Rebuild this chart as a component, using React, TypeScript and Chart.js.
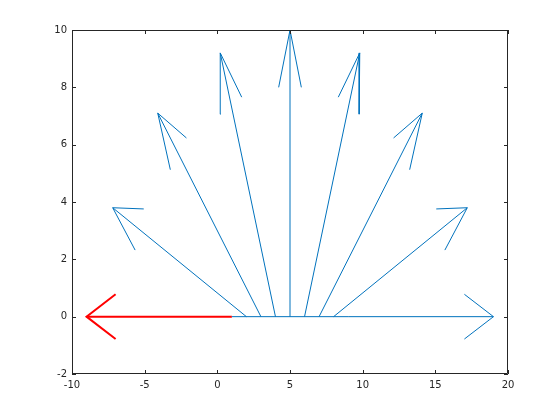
import React, { useEffect, useRef } from "react";
import { Chart, registerables } from "chart.js";

Chart.register(...registerables);

// Quiver data
const baseX = [9, 8, 7, 6, 5, 4, 3, 2];
const baseY = [0, 0, 0, 0, 0, 0, 0, 0];
const uComp = [10, 9.2, 7.1, 3.8, 0, -3.8, -7.1, -9.2];
const vComp = [0, 3.8, 7.1, 9.2, 10, 9.2, 7.1, 3.8];

const redBaseX = [1];
const redBaseY = [0];
const redU = [-10];
const redV = [0];

const baselineX = [1, 9];
const baselineY = [0, 0];

const xTicks = [-10, -5, 0, 5, 10, 15, 20];
const yTicks = [-2, 0, 2, 4, 6, 8, 10];

const BLUE = "#0072bd";
const RED = "#ff0000";
const AXIS = "#262626";

const HEAD_BACK = 0.2;
const HEAD_SPREAD = 0.078;

type P = { x: number; y: number };

function arrowDatasets(bx: number[], by: number[], u: number[], v: number[], color: string, width: number) {
  const out: any[] = [];
  bx.forEach((x, i) => {
    const y = by[i];
    const tx = x + u[i];
    const ty = y + v[i];
    const mx = x + u[i] * (1 - HEAD_BACK);
    const my = y + v[i] * (1 - HEAD_BACK);
    const shaft: P[] = [
      { x, y },
      { x: tx, y: ty },
    ];
    const head: P[] = [
      { x: mx - v[i] * HEAD_SPREAD, y: my + u[i] * HEAD_SPREAD },
      { x: tx, y: ty },
      { x: mx + v[i] * HEAD_SPREAD, y: my - u[i] * HEAD_SPREAD },
    ];
    [shaft, head].forEach((d) =>
      out.push({
        data: d,
        showLine: true,
        borderColor: color,
        borderWidth: width,
        pointRadius: 0,
        tension: 0,
      })
    );
  });
  return out;
}

const boxPlugin = {
  id: "boxTicks",
  afterDraw(chart: any) {
    const { ctx, chartArea: a, scales } = chart;
    const xs = scales.x;
    const ys = scales.y;
    ctx.save();
    ctx.strokeStyle = AXIS;
    ctx.lineWidth = 1;
    ctx.beginPath();
    ctx.rect(a.left + 0.5, a.top + 0.5, a.right - a.left - 1, a.bottom - a.top - 1);
    const tl = 4;
    xTicks.forEach((t) => {
      const px = Math.round(xs.getPixelForValue(t)) + 0.5;
      ctx.moveTo(px, a.bottom);
      ctx.lineTo(px, a.bottom - tl);
      ctx.moveTo(px, a.top);
      ctx.lineTo(px, a.top + tl);
    });
    yTicks.forEach((t) => {
      const py = Math.round(ys.getPixelForValue(t)) + 0.5;
      ctx.moveTo(a.left, py);
      ctx.lineTo(a.left + tl, py);
      ctx.moveTo(a.right, py);
      ctx.lineTo(a.right - tl, py);
    });
    ctx.stroke();
    ctx.restore();
  },
};

export default function App() {
  const ref = useRef<HTMLCanvasElement>(null);
  useEffect(() => {
    document.body.style.margin = "0";
    const canvas = ref.current!;
    const chart = new Chart(canvas, {
      type: "scatter",
      data: {
        datasets: [
          {
            data: baselineX.map((x, i) => ({ x, y: baselineY[i] })),
            showLine: true,
            borderColor: BLUE,
            borderWidth: 1,
            pointRadius: 0,
          },
          ...arrowDatasets(baseX, baseY, uComp, vComp, BLUE, 1),
          ...arrowDatasets(redBaseX, redBaseY, redU, redV, RED, 2),
        ],
      },
      options: {
        animation: false,
        responsive: false,
        layout: { padding: { left: 0, top: 30, right: 52, bottom: 0 } },
        plugins: { legend: { display: false }, tooltip: { enabled: false } },
        scales: {
          x: {
            type: "linear",
            min: -10,
            max: 20,
            afterFit: (s: any) => {
              s.height = 46;
            },
            afterBuildTicks: (s: any) => {
              s.ticks = xTicks.map((value) => ({ value }));
            },
            grid: { display: false, drawTicks: false },
            border: { display: false },
            ticks: {
              padding: 5,
              color: AXIS,
              font: { family: "DejaVu Sans", size: 10 },
              maxRotation: 0,
            },
          },
          y: {
            type: "linear",
            min: -2,
            max: 10,
            afterFit: (s: any) => {
              s.width = 72;
            },
            afterBuildTicks: (s: any) => {
              s.ticks = yTicks.map((value) => ({ value }));
            },
            grid: { display: false, drawTicks: false },
            border: { display: false },
            ticks: {
              padding: 5,
              color: AXIS,
              font: { family: "DejaVu Sans", size: 10 },
            },
          },
        },
      },
      plugins: [boxPlugin],
    });
    return () => chart.destroy();
  }, []);
  return <canvas ref={ref} width={560} height={420} style={{ display: "block" }} />;
}
